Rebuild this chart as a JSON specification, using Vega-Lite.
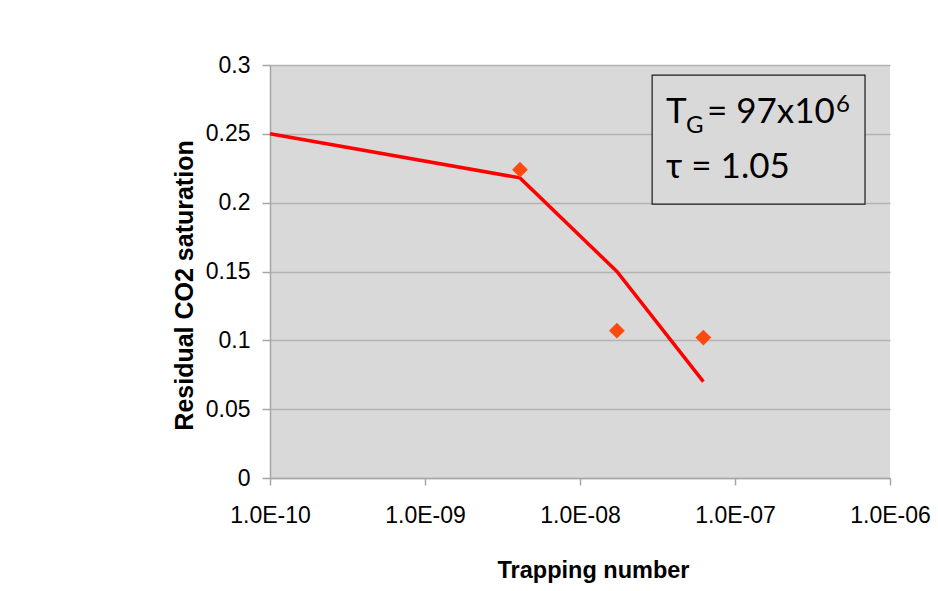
{
  "$schema": "https://vega.github.io/schema/vega-lite/v6.json",
  "width": 620,
  "height": 413,
  "autosize": "none",
  "padding": {"left": 270, "top": 65, "right": 48, "bottom": 113},
  "background": "white",
  "config": {
    "view": {"fill": "#d9d9d9", "stroke": null},
    "font": "Liberation Sans"
  },
  "datasets": {
    "model": [
      {"trapping": 1e-10, "saturation": 0.25},
      {"trapping": 4.1e-9, "saturation": 0.218},
      {"trapping": 1.73e-8, "saturation": 0.15},
      {"trapping": 6.25e-8, "saturation": 0.07}
    ],
    "measured": [
      {"trapping": 4.1e-9, "saturation": 0.224},
      {"trapping": 1.73e-8, "saturation": 0.107},
      {"trapping": 6.25e-8, "saturation": 0.102}
    ],
    "box": [
      {"x1": 2.92e-8, "x2": 6.9e-7, "y1": 0.2927, "y2": 0.199}
    ],
    "labels": [
      {"x": 3.59e-8, "y": 0.2579, "text": "T", "part": "main"},
      {"x": 6.59e-8, "y": 0.2579, "text": "= 97x10", "part": "main"},
      {"x": 3.59e-8, "y": 0.2179, "text": "τ = 1.05", "part": "main"},
      {"x": 4.83e-8, "y": 0.2506, "text": "G", "part": "small"},
      {"x": 4.49e-7, "y": 0.2659, "text": "6", "part": "small"}
    ]
  },
  "layer": [
    {
      "data": {"name": "box"},
      "mark": {"type": "rect", "fill": "#d9d9d9", "stroke": "#1a1a1a", "strokeWidth": 1.2},
      "encoding": {
        "x": {"field": "x1", "type": "quantitative", "scale": {"type": "log", "domain": [1e-10, 1e-6]}},
        "x2": {"field": "x2"},
        "y": {"field": "y1", "type": "quantitative"},
        "y2": {"field": "y2"}
      }
    },
    {
      "data": {"name": "model"},
      "mark": {"type": "line", "color": "#ff0000", "strokeWidth": 3.5},
      "encoding": {
        "x": {
          "field": "trapping",
          "type": "quantitative",
          "scale": {"type": "log", "domain": [1e-10, 1e-6], "nice": false},
          "axis": {
            "title": "Trapping number",
            "titleFont": "Liberation Sans",
            "titleFontSize": 23.5,
            "titleFontWeight": "bold",
            "titleColor": "#000000",
            "titlePadding": 31,
            "titleX": 323,
            "values": [1e-10, 1e-9, 1e-8, 1e-7, 1e-6],
            "labelExpr": "'1.0E-' + format(round(-log(datum.value) / LN10), '02d')",
            "labelFontSize": 23,
            "labelColor": "#000000",
            "labelPadding": 19,
            "labelFlush": false,
            "domainColor": "#a6a6a6",
            "domainWidth": 1.5,
            "tickColor": "#a6a6a6",
            "tickWidth": 1.5,
            "tickSize": 7,
            "grid": false
          }
        },
        "y": {
          "field": "saturation",
          "type": "quantitative",
          "scale": {"domain": [0, 0.3], "nice": false},
          "axis": {
            "title": "Residual CO2 saturation",
            "titleFont": "Liberation Sans",
            "titleFontSize": 25,
            "titleFontWeight": "bold",
            "titleColor": "#000000",
            "titlePadding": 8,
            "titleY": 220,
            "values": [0, 0.05, 0.1, 0.15, 0.2, 0.25, 0.3],
            "labelExpr": "format(datum.value, '~g')",
            "labelFontSize": 23,
            "labelColor": "#000000",
            "labelPadding": 12,
            "domainColor": "#a6a6a6",
            "domainWidth": 1.5,
            "tickColor": "#a6a6a6",
            "tickWidth": 1.5,
            "tickSize": 8,
            "grid": true,
            "gridColor": "#b3b3b3",
            "gridWidth": 1.5
          }
        }
      }
    },
    {
      "data": {"name": "measured"},
      "mark": {"type": "point", "shape": "diamond", "filled": true, "color": "#ff4a0f", "size": 250, "opacity": 1},
      "encoding": {
        "x": {"field": "trapping", "type": "quantitative"},
        "y": {"field": "saturation", "type": "quantitative"}
      }
    },
    {
      "data": {"name": "labels"},
      "transform": [{"filter": "datum.part === 'main'"}],
      "mark": {"type": "text", "align": "left", "baseline": "alphabetic", "font": "Lato", "fontSize": 35, "color": "#000000"},
      "encoding": {
        "x": {"field": "x", "type": "quantitative"},
        "y": {"field": "y", "type": "quantitative"},
        "text": {"field": "text"}
      }
    },
    {
      "data": {"name": "labels"},
      "transform": [{"filter": "datum.part === 'small'"}],
      "mark": {"type": "text", "align": "left", "baseline": "alphabetic", "font": "Lato", "fontSize": 24, "color": "#000000"},
      "encoding": {
        "x": {"field": "x", "type": "quantitative"},
        "y": {"field": "y", "type": "quantitative"},
        "text": {"field": "text"}
      }
    }
  ]
}
